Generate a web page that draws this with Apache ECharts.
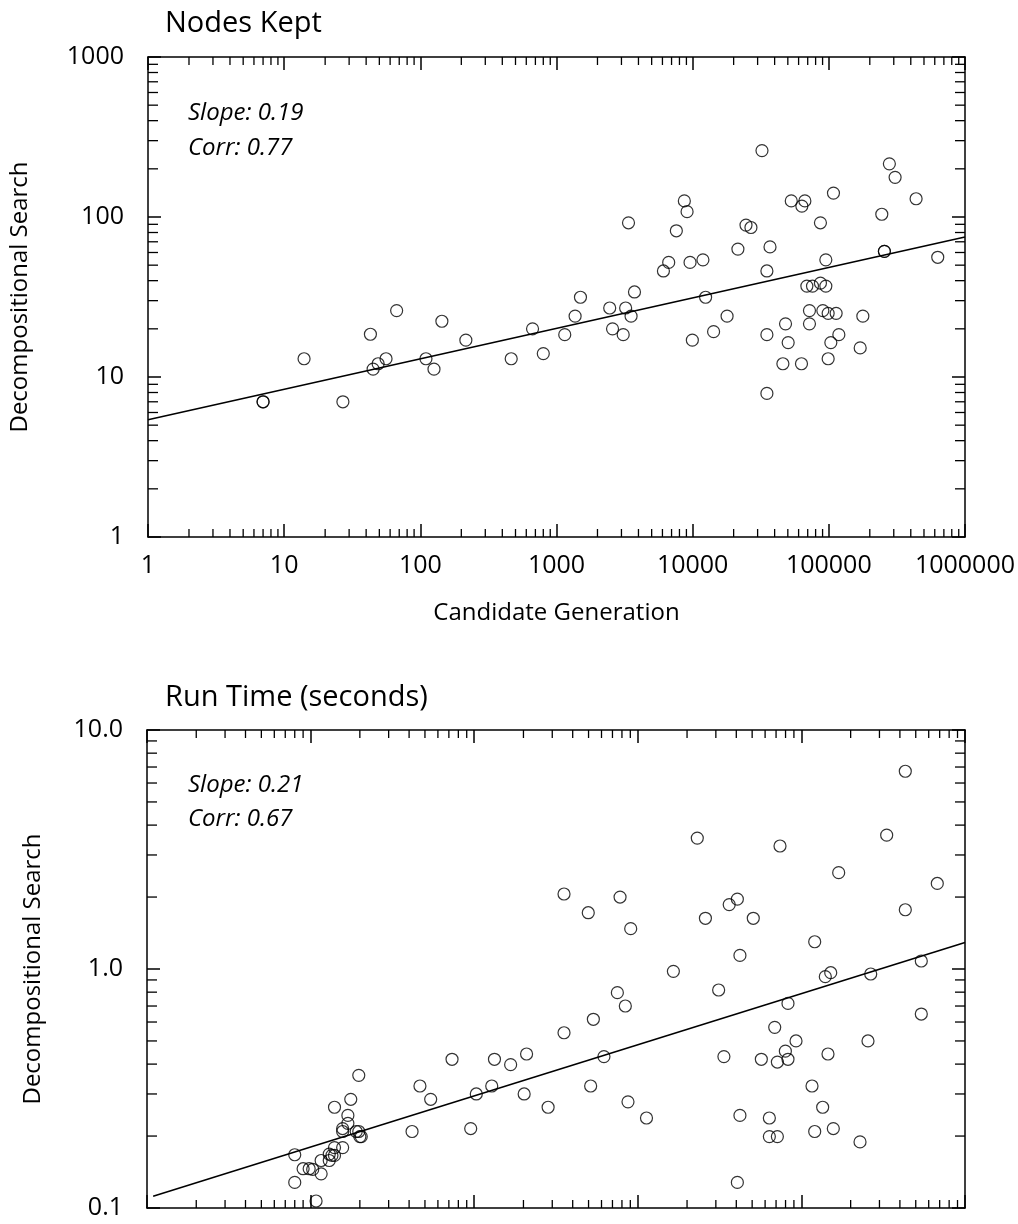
<!DOCTYPE html>
<html><head><meta charset="utf-8">
<script src="https://cdn.jsdelivr.net/npm/echarts@6/dist/echarts.min.js"></script>
<style>html,body{margin:0;padding:0;background:#fff}#chart{width:1018px;height:1224px}</style>
</head><body><div id="chart"></div>
<script>
const FONT = '"Open Sans", "Noto Sans", sans-serif';

// ---- Top panel: Nodes Kept ----
const nodesTitle = 'Nodes Kept';
const nodesStats = ['Slope: 0.19', 'Corr: 0.77'];
const nodesCandidate = [7, 7, 14, 27, 43, 45, 49, 56, 67, 110, 126, 144, 216, 465, 667, 800, 1150, 1370, 1500, 2460, 2580, 3090, 3220, 3530, 3380, 3740, 6100, 6670, 7590, 8690, 9100, 9570, 9950, 11900, 12450, 14250, 17900, 21500, 24650, 26800, 32300, 35100, 35100, 35100, 37000, 46000, 48100, 50300, 53000, 63000, 63400, 66700, 69000, 72100, 72100, 75900, 86800, 86800, 90400, 95100, 95100, 98900, 98900, 103500, 108200, 113200, 118500, 170000, 177800, 245000, 256000, 256000, 278500, 306800, 437500, 631000];
const nodesDecomp = [7, 7, 13, 7, 18.5, 11.2, 12.1, 13, 26, 13, 11.2, 22.3, 17, 13, 20, 14, 18.4, 24, 31.5, 27, 20, 18.4, 27, 24, 92, 34, 46, 52, 82, 126, 108, 52, 17, 54, 31.5, 19.2, 24, 63, 89, 86, 260, 46, 18.4, 7.9, 65, 12.1, 21.5, 16.4, 126, 12.1, 117, 126, 37, 26, 21.5, 37, 92, 38.6, 26, 54, 37, 25, 13, 16.4, 141, 25, 18.4, 15.2, 24, 104, 61, 61, 215, 177, 130, 56];
const nodesFitX = [1, 1000000];
const nodesFitY = [5.4, 75];
const nodesXRange = [1, 1000000];
const nodesYRange = [1, 1000];

// ---- Bottom panel: Run Time (seconds) ----
const timeTitle = 'Run Time (seconds)';
const timeStats = ['Slope: 0.21', 'Corr: 0.67'];
const timeCandidate = [0.80, 0.80, 0.90, 0.98, 1.03, 1.08, 1.16, 1.16, 1.30, 1.30, 1.35, 1.40, 1.40, 1.57, 1.40, 1.57, 1.57, 1.69, 1.69, 1.76, 1.90, 1.97, 1.97, 2.00, 2.04, 4.17, 4.66, 5.42, 7.32, 9.52, 10.3, 12.8, 13.3, 16.7, 20.2, 20.9, 28.3, 35.4, 51.5, 53.5, 62.1, 75, 83.9, 87.1, 113, 165, 312, 336, 406, 421, 569, 637, 637, 687, 713, 713, 798, 828, 828, 927, 1161, 1206, 1349, 1400, 1511, 1454, 1567, 2282, 2553, 2653, 5406, 35.4, 49.8, 77.9, 90.5, 231, 259, 362, 406, 421, 508, 740, 1206, 1690, 3321, 4316, 4316, 5406, 6770];
const timeDecomp = [0.167, 0.128, 0.146, 0.146, 0.145, 0.107, 0.158, 0.139, 0.168, 0.158, 0.166, 0.166, 0.179, 0.179, 0.264, 0.215, 0.209, 0.244, 0.226, 0.285, 0.209, 0.209, 0.359, 0.199, 0.199, 0.209, 0.324, 0.285, 0.419, 0.215, 0.30, 0.324, 0.419, 0.398, 0.30, 0.441, 0.264, 0.541, 0.324, 0.616, 0.43, 0.796, 0.70, 0.278, 0.238, 0.978, 0.817, 0.43, 0.128, 0.244, 0.419, 0.238, 0.199, 0.57, 0.408, 0.199, 0.453, 0.419, 0.718, 0.50, 0.324, 0.209, 0.264, 0.929, 0.965, 0.441, 0.215, 0.189, 0.50, 0.953, 0.648, 2.06, 1.72, 2.0, 1.475, 3.53, 1.63, 1.86, 1.96, 1.14, 1.63, 3.27, 1.30, 2.53, 3.63, 6.72, 1.77, 1.08, 2.28];
const timeFitX = [0.109, 10000];
const timeFitY = [0.112, 1.29];
const timeXRange = [0.1, 10000];
const timeYRange = [0.1, 10];

const xAxisName = 'Candidate Generation';
const yAxisName = 'Decompositional Search';

// ---------------------------------------------
const zip = (a, b) => a.map((v, i) => [v, b[i]]);
const BLACK = '#000';

function minorValues(lo, hi) {
  const out = [];
  const d0 = Math.round(Math.log10(lo)), d1 = Math.round(Math.log10(hi));
  for (let d = d0; d < d1; d++) for (let k = 2; k <= 9; k++) out.push(+(k * Math.pow(10, d)).toPrecision(6));
  return out;
}

function logAxis(grid, range, pos, opts) {
  return Object.assign({
    gridIndex: grid, type: 'log', logBase: 10, min: range[0], max: range[1], position: pos,
    axisLine: { show: true, onZero: false, lineStyle: { color: BLACK, width: 1.5 } },
    axisTick: { show: true, inside: true, length: 13, lineStyle: { color: BLACK, width: 1.5 } },
    axisLabel: { show: false },
    splitLine: { show: false },
    minorTick: { show: false }
  }, opts || {});
}

function minorTickSeries(xi, yi, xr, yr) {
  const data = [];
  minorValues(xr[0], xr[1]).forEach(v => data.push([v, yr[0], 0]));
  minorValues(yr[0], yr[1]).forEach(v => data.push([xr[0], v, 1]));
  return {
    type: 'custom', xAxisIndex: xi, yAxisIndex: yi, silent: true, animation: false,
    data: data,
    renderItem: function (params, api) {
      const t = api.value(2);
      const st = { stroke: BLACK, lineWidth: 1.3 };
      if (t === 0) {
        const v = api.value(0);
        const b = api.coord([v, yr[0]]), tp = api.coord([v, yr[1]]);
        return { type: 'group', children: [
          { type: 'line', shape: { x1: b[0], y1: b[1], x2: b[0], y2: b[1] - 8 }, style: st },
          { type: 'line', shape: { x1: tp[0], y1: tp[1], x2: tp[0], y2: tp[1] + 8 }, style: st }
        ] };
      } else {
        const v = api.value(1);
        const l = api.coord([xr[0], v]), r = api.coord([xr[1], v]);
        return { type: 'group', children: [
          { type: 'line', shape: { x1: l[0], y1: l[1], x2: l[0] + 10, y2: l[1] }, style: st },
          { type: 'line', shape: { x1: r[0], y1: r[1], x2: r[0] - 10, y2: r[1] }, style: st }
        ] };
      }
    }
  };
}

const labelStyle = { show: true, color: BLACK, fontSize: 25, fontFamily: FONT };
const nameStyle = { color: BLACK, fontSize: 24, fontFamily: FONT };

const scatterStyle = { color: 'rgba(0,0,0,0)', borderColor: BLACK, borderWidth: 1.2 };

function textEl(text, left, top, size, italic) {
  return { type: 'text', left: left, top: top, silent: true,
    style: { text: text, fill: BLACK, font: (italic ? 'italic ' : '') + size + 'px ' + FONT } };
}

const option = {
  animation: false,
  backgroundColor: '#fff',
  grid: [
    { left: 147, top: 57, width: 818, height: 480 },
    { left: 147, top: 730, width: 818, height: 478 }
  ],
  xAxis: [
    logAxis(0, nodesXRange, 'bottom', {
      axisLabel: Object.assign({}, labelStyle, { margin: 16, formatter: v => String(Math.round(v)) }),
      name: xAxisName, nameLocation: 'middle', nameGap: 64, nameTextStyle: nameStyle
    }),
    logAxis(0, nodesXRange, 'top'),
    logAxis(1, timeXRange, 'bottom'),
    logAxis(1, timeXRange, 'top')
  ],
  yAxis: [
    logAxis(0, nodesYRange, 'left', {
      axisLabel: Object.assign({}, labelStyle, { margin: 24, formatter: v => String(Math.round(v)) }),
      name: yAxisName, nameLocation: 'middle', nameGap: 116, nameTextStyle: nameStyle
    }),
    logAxis(0, nodesYRange, 'right'),
    logAxis(1, timeYRange, 'left', {
      axisLabel: Object.assign({}, labelStyle, { margin: 24, formatter: v => v.toFixed(1) }),
      name: yAxisName, nameLocation: 'middle', nameGap: 102, nameTextStyle: nameStyle
    }),
    logAxis(1, timeYRange, 'right')
  ],
  graphic: [
    textEl(nodesTitle, 165, 9, 29, false),
    textEl(nodesStats[0], 188, 101, 24, true),
    textEl(nodesStats[1], 188, 136, 24, true),
    textEl(timeTitle, 165, 683, 29, false),
    textEl(timeStats[0], 188, 773, 24, true),
    textEl(timeStats[1], 188, 807, 24, true)
  ],
  series: [
    minorTickSeries(0, 0, nodesXRange, nodesYRange),
    minorTickSeries(2, 2, timeXRange, timeYRange),
    { type: 'line', xAxisIndex: 0, yAxisIndex: 0, data: zip(nodesFitX, nodesFitY), symbol: 'none',
      lineStyle: { color: BLACK, width: 1.6 }, silent: true },
    { type: 'scatter', xAxisIndex: 0, yAxisIndex: 0, data: zip(nodesCandidate, nodesDecomp),
      symbol: 'circle', symbolSize: 12, itemStyle: scatterStyle },
    { type: 'line', xAxisIndex: 2, yAxisIndex: 2, data: zip(timeFitX, timeFitY), symbol: 'none',
      lineStyle: { color: BLACK, width: 1.6 }, silent: true },
    { type: 'scatter', xAxisIndex: 2, yAxisIndex: 2, data: zip(timeCandidate, timeDecomp),
      symbol: 'circle', symbolSize: 12, itemStyle: scatterStyle }
  ]
};

const chart = echarts.init(document.getElementById('chart'), null, { renderer: 'canvas' });
chart.setOption(option);
</script>
</body></html>
